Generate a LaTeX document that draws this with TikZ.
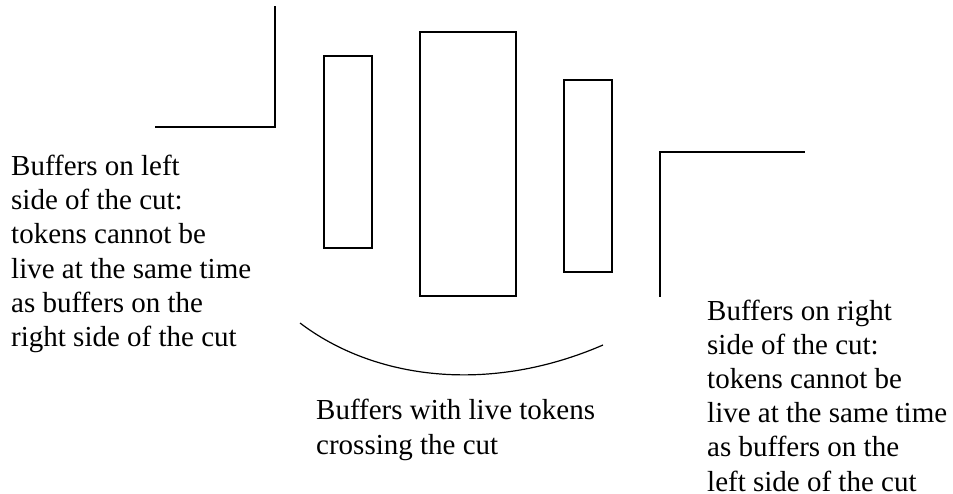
\documentclass[tikz,border=0pt]{standalone}
\usepackage{fontspec}
\setmainfont{Liberation Serif}
\begin{document}
\begin{tikzpicture}[x=1pt,y=-1pt,
  cutline/.style={line width=2pt,line cap=rect},
  buffer/.style={draw,line width=2pt,inner sep=0pt,minimum width=#1},
  arcline/.style={line width=1.2pt},
  label/.style={anchor=base west,inner sep=0pt,align=left,
    font=\fontsize{29}{34.2}\selectfont}]
  \useasboundingbox (0,0) rectangle (953,494);

  % the two halves of the cut
  \coordinate (lt) at (275,7);
  \coordinate (lc) at (275,127);
  \coordinate (le) at (156,127);
  \draw[cutline] (lt) -- (lc) -- (le);
  \coordinate (rt) at (804,152);
  \coordinate (rc) at (660,152);
  \coordinate (re) at (660,296);
  \draw[cutline] (rt) -- (rc) -- (re);

  % buffers crossing the cut
  \node[buffer=48pt,minimum height=192pt] (b1) at (348,152) {};
  \node[buffer=96pt,minimum height=264pt] (b2) at (468,164) {};
  \node[buffer=48pt,minimum height=192pt] (b3) at (588,176) {};

  % brace under the buffers
  \coordinate (as) at (300,323);
  \coordinate (ae) at (603,345);
  \draw[arcline] (as) .. controls (375,380) and (490,394) .. (ae);

  % captions (anchored at the baseline of their last line)
  \node[label] (tl) at (11,346.5) {Buffers on left\\side of the cut:\\tokens cannot be\\live at the same time\\as buffers on the\\right side of the cut};
  \node[label] (tm) at (316,454) {Buffers with live tokens\\crossing the cut};
  \node[label] (tr) at (707,491) {Buffers on right\\side of the cut:\\tokens cannot be\\live at the same time\\as buffers on the\\left side of the cut};
\end{tikzpicture}
\end{document}
